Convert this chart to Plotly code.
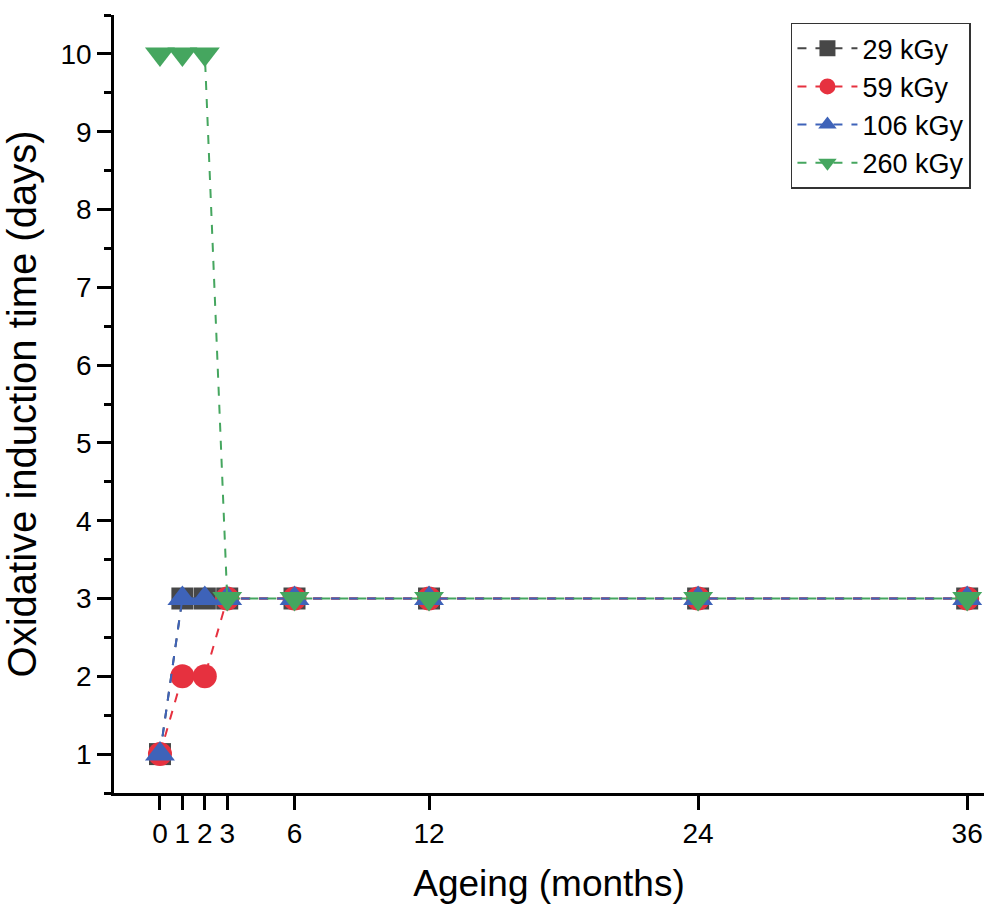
import plotly.graph_objects as go

months = [0, 1, 2, 3, 6, 12, 24, 36]
oit_29 = [1, 3, 3, 3, 3, 3, 3, 3]
oit_59 = [1, 2, 2, 3, 3, 3, 3, 3]
oit_106 = [1, 3, 3, 3, 3, 3, 3, 3]
oit_260 = [10, 10, 10, 3, 3, 3, 3, 3]
x_ticks = [0, 1, 2, 3, 6, 12, 24, 36]
y_ticks = list(range(1, 11))

series = [
    ("29 kGy", oit_29, "#474747", "square", 22),
    ("59 kGy", oit_59, "#e6313f", "circle", 24),
    ("106 kGy", oit_106, "#3e63b9", "triangle-up", 26),
    ("260 kGy", oit_260, "#45a65f", "triangle-down", 26),
]

fig = go.Figure()
for name, ys, color, sym, sz in series:
    fig.add_trace(go.Scatter(
        x=months, y=ys, name=name, mode="lines+markers",
        line=dict(color=color, width=2, dash="dash"),
        marker=dict(symbol=sym, size=sz, color=color, line=dict(width=0)),
    ))

fig.update_layout(
    width=984, height=913,
    margin=dict(l=114, r=0, t=15, b=120),
    plot_bgcolor="white", paper_bgcolor="white",
    font=dict(family="Liberation Sans, Arial, sans-serif", color="black"),
    showlegend=True,
    legend=dict(
        x=0.985, y=0.99, xanchor="right", yanchor="top",
        bordercolor="#333333", borderwidth=1.5, bgcolor="white",
        font=dict(size=27), itemwidth=60, tracegroupgap=0,
        itemsizing="trace",
    ),
)
fig.update_xaxes(
    range=[-2.05, 36.75], tickmode="array", tickvals=x_ticks,
    ticktext=[str(t) for t in x_ticks],
    showline=True, linecolor="black", linewidth=2.5,
    ticks="outside", ticklen=14, tickwidth=2.5, tickcolor="black",
    tickfont=dict(size=28), showgrid=False, zeroline=False,
    title=dict(text="Ageing (months)", font=dict(size=37), standoff=22),
)
fig.update_yaxes(
    range=[0.5, 10.5], tickmode="array", tickvals=y_ticks,
    showline=True, linecolor="black", linewidth=2.5,
    ticks="outside", ticklen=14, tickwidth=2.5, tickcolor="black",
    tickfont=dict(size=28), showgrid=False, zeroline=False,
    minor=dict(tickmode="array", tickvals=[v + 0.5 for v in range(0, 11)],
               ticks="outside", ticklen=7, tickwidth=2.5, tickcolor="black"),
    title=dict(text="Oxidative induction time (days)", font=dict(size=40), standoff=14),
)

fig.write_html("out.html")
